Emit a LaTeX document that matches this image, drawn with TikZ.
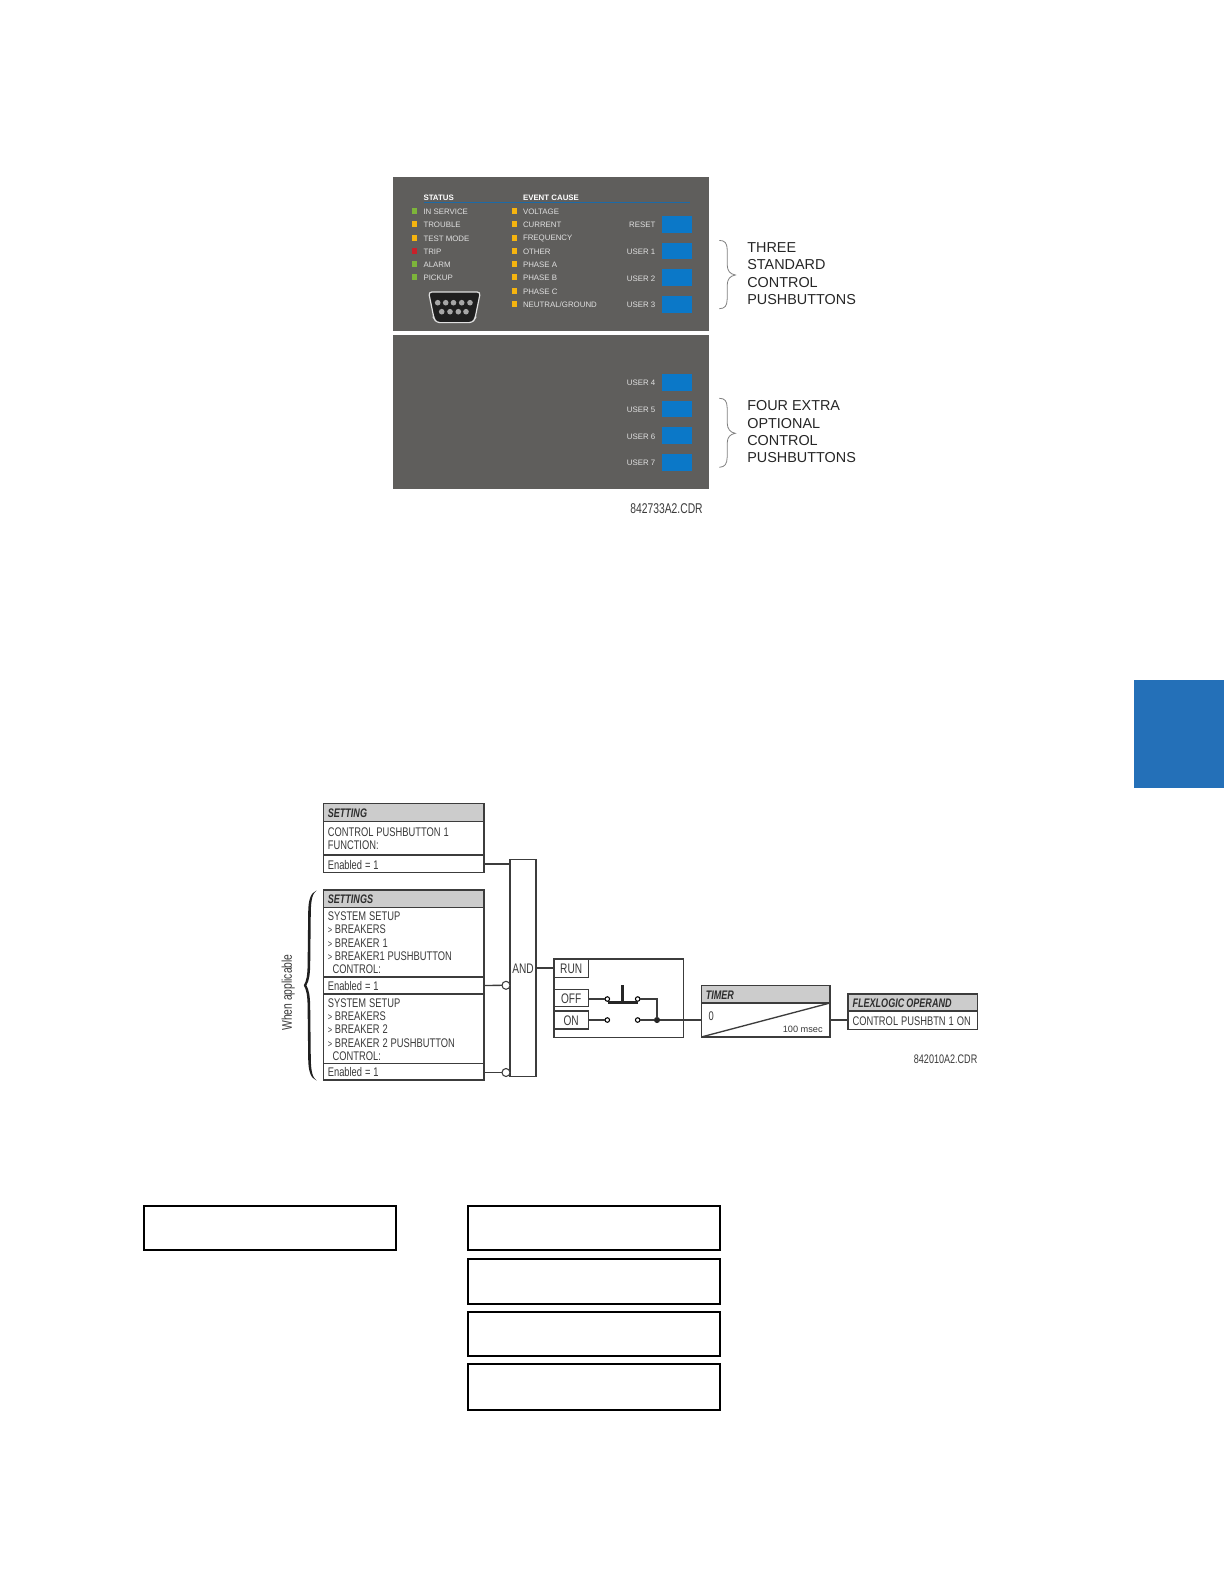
\documentclass[tikz,border=0pt]{standalone}
\usepackage{fontspec}
\setmainfont{Liberation Sans}
\newfontfamily\narrowf[FakeStretch=0.745]{Liberation Sans}
\newfontfamily\tagf[FakeStretch=0.73]{Liberation Sans}
\newcommand\tightsp{\fontdimen2\font=2.2pt \fontdimen3\font=0pt \fontdimen4\font=0pt }
\newcommand\headsp{\fontdimen2\font=1.5pt \fontdimen3\font=0pt \fontdimen4\font=0pt }
\definecolor{panelgrey}{HTML}{5F5E5C}
\definecolor{btnblue}{HTML}{0B78C8}
\definecolor{linkblue}{HTML}{1C6AA6}
\definecolor{tabblue}{HTML}{2470B8}
\definecolor{ledgreen}{HTML}{7DB53A}
\definecolor{ledamber}{HTML}{F5B40F}
\definecolor{ledred}{HTML}{C8202A}
\definecolor{headgrey}{HTML}{CCCCCC}
\definecolor{inkgrey}{HTML}{3A3A3A}
\definecolor{edgegrey}{HTML}{3C3C3C}
\tikzset{
  plain/.style={inner sep=0pt,outer sep=0pt},
  rectnode/.style={plain,rectangle},
  panelbox/.style={rectnode,fill=panelgrey},
  btnbox/.style={rectnode,fill=btnblue},
  panellbl/.style={plain,yshift=-0.6pt,text=black!12,font=\fontsize{5.9}{7}\selectfont},
  panelhead/.style={plain,text=white,font=\bfseries\fontsize{5.9}{7}\selectfont},
  led/.style={rectnode,minimum width=4.4pt,minimum height=4.4pt},
  biglbl/.style={plain,align=left,text=black!85,font=\fontsize{10.8}{13}\selectfont},
  cdr/.style={plain,text=inkgrey,font=\tagf\fontsize{10.6}{11}\selectfont},
  cdrsmall/.style={plain,text=inkgrey,font=\tagf\fontsize{9.3}{10}\selectfont},
  cell/.style={rectnode,draw=edgegrey,line width=1pt,fill=white},
  celltext/.style={plain,text=inkgrey,align=left,font=\narrowf\fontsize{9.4}{10}\selectfont\tightsp},
  headcell/.style={cell,fill=headgrey},
  headcelltext/.style={plain,text=inkgrey!80!black,align=left,font=\tagf\bfseries\itshape\fontsize{9.3}{10}\selectfont\headsp},
  frame/.style={rectnode,draw=edgegrey,line width=1pt},
  tagbox/.style={rectnode,draw=edgegrey,line width=1pt,fill=white,text=inkgrey},
  tagtext/.style={plain,text=inkgrey,font=\tagf\fontsize{10.4}{11}\selectfont},
  wire/.style={draw=edgegrey,line width=1pt},
  invert/.style={plain,circle,draw=edgegrey,line width=.8pt,fill=white,minimum size=6pt},
  contact/.style={plain,circle,draw=black,line width=.8pt,fill=white,minimum size=3.4pt},
  junction/.style={plain,circle,fill=black!85,minimum size=4.6pt},
  emptybox/.style={rectnode,draw=black,line width=1.6pt},
  thinbrace/.style={draw=black!50,line width=.6pt},
}
\newcommand\rectat[7]{%
  \pgfmathsetmacro\rw{(#4-#2)*0.75}\pgfmathsetmacro\rh{(#5-#3)*0.75}%
  \node[#6,minimum width=\rw pt,minimum height=\rh pt,anchor=north west] (#1) at (#2,#3) {#7};}
\newcommand\cellat[7]{%
  \pgfmathsetmacro\rw{(#4-#2)*0.75}\pgfmathsetmacro\rh{(#5-#3)*0.75}%
  \node[#6,minimum width=\rw pt,minimum height=\rh pt,anchor=north west] (#1) at (#2,#3) {};
  \node[#6text,anchor=west] (#1t) at ([xshift=3.4pt,yshift=-.6pt]#1.west) {#7};}
\newcommand\tagat[6]{%
  \rectat{#1}{#2}{#3}{#4}{#5}{tagbox}{}
  \node[tagtext] (#1t) at ([yshift=-.5pt]#1.center) {#6};}
\newcommand\gtmark{{\fontsize{7.5}{10}\selectfont>}\hspace{2.1pt}}
\newcommand\indentgt{\hspace*{3.6pt}}
\begin{document}
\begin{tikzpicture}[x=0.75pt,y=-0.75pt]
\useasboundingbox (0,0) rectangle (1224,1584);
\fill[white] (0,0) rectangle (1224,1584);
% side tab
\rectat{tab}{1134}{680}{1224}{788}{rectnode,fill=tabblue}{}
% panels
\rectat{panelA}{393.3}{176.7}{709}{331}{panelbox}{}
\rectat{panelB}{393.3}{334.7}{709}{489}{panelbox}{}
\node[panelhead,anchor=west] (hStatus) at (423.5,197.7) {STATUS};
\node[panelhead,anchor=west] (hEvent) at (523,197.7) {EVENT CAUSE};
\coordinate (ruleL) at (424,202.7);
\coordinate (ruleR) at (690,202.7);
\draw[linkblue,line width=1.1pt] (ruleL) -- (ruleR);
\foreach \n/\y/\c/\t in {a/210.7/ledgreen/IN SERVICE,b/224/ledamber/TROUBLE,c/237.7/ledamber/TEST MODE,d/251/ledred/TRIP,e/264.3/ledgreen/ALARM,f/277.3/ledgreen/PICKUP}{
  \node[led,fill=\c] (sl\n) at (414.5,\y) {};
  \node[panellbl,anchor=west] (st\n) at (423.5,\y) {\t};
}
\foreach \n/\y/\t in {a/210.7/VOLTAGE,b/224/CURRENT,c/237.7/FREQUENCY,d/251/OTHER,e/264.3/PHASE A,f/277.3/PHASE B,g/291/PHASE C,h/304.3/{NEUTRAL/GROUND}}{
  \node[led,fill=ledamber] (el\n) at (514.5,\y) {};
  \node[panellbl,anchor=west] (et\n) at (523,\y) {\t};
}
\foreach \n/\y/\t in {r/216/RESET,u/242.7/USER 1,v/269.3/USER 2,w/296/USER 3,x/374/USER 4,y/400.7/USER 5,z/427.3/USER 6,q/454/USER 7}{
  \pgfmathsetmacro\yy{\y+16.7}\pgfmathsetmacro\ym{\y+8.3}
  \rectat{btn\n}{662}{\y}{691.7}{\yy}{btnbox}{}
  \node[panellbl,anchor=east] (bt\n) at (655.3,\ym) {\t};
}
% serial connector
\fill[black!88,draw=black!12,line width=.9pt,rounded corners=2.4pt]
  (428.6,292) -- (480.4,292) -- (475,318.5) -- (472.5,322.6) -- (436.5,322.6) -- (434,318.5) -- cycle;
\foreach \x in {437.7,445.7,453.5,461.7,470}{\fill[black!35] (\x,302.7) circle[radius=2.8];}
\foreach \x in {441.7,450,458.3,466}{\fill[black!35] (\x,311.7) circle[radius=2.8];}
% thin braces and captions
\draw[thinbrace] (719.3,240.4) .. controls (725,240.5) and (727,243) .. (727.2,250) -- (727.2,265) .. controls (727.4,271) and (730,274) .. (735.3,275) .. controls (730,276) and (727.4,279) .. (727.2,285) -- (727.2,299) .. controls (727,306) and (725,308.5) .. (719.3,308.7);
\draw[thinbrace] (719.3,398.3) .. controls (725,398.4) and (727,401) .. (727.2,408) -- (727.2,423) .. controls (727.4,429) and (730,432.3) .. (735.3,433.3) .. controls (730,434.3) and (727.4,437) .. (727.2,443) -- (727.2,457) .. controls (727,464) and (725,467) .. (719.3,467.3);
\node[biglbl,anchor=west] (capA) at (747.3,273.7) {THREE\\STANDARD\\CONTROL\\PUSHBUTTONS};
\node[biglbl,anchor=west] (capB) at (747.3,432) {FOUR EXTRA\\OPTIONAL\\CONTROL\\PUSHBUTTONS};
\node[cdr,anchor=east] (cdrA) at (702.7,508.7) {842733A2.CDR};
% setting boxes
\cellat{hd1}{323.3}{803.3}{484}{821.3}{headcell}{SETTING}
\cellat{bd1}{323.3}{821.3}{484}{855}{cell}{CONTROL PUSHBUTTON 1\\FUNCTION:}
\cellat{en1}{323.3}{855}{484}{872.7}{cell}{Enabled = 1}
\cellat{hd2}{323.3}{890}{484}{907.3}{headcell}{SETTINGS}
\cellat{bd2}{323.3}{907.3}{484}{977}{cell}{SYSTEM SETUP\\\gtmark BREAKERS\\\gtmark BREAKER 1\\\gtmark BREAKER1 PUSHBUTTON\\\indentgt CONTROL:}
\cellat{en2}{323.3}{977}{484}{994}{cell}{Enabled = 1}
\cellat{bd3}{323.3}{994}{484}{1063.3}{cell}{SYSTEM SETUP\\\gtmark BREAKERS\\\gtmark BREAKER 2\\\gtmark BREAKER 2 PUSHBUTTON\\\indentgt CONTROL:}
\cellat{en3}{323.3}{1063.3}{484}{1080}{cell}{Enabled = 1}
% when applicable brace
\fill[black!88] (316.5,890.5) .. controls (310.5,893) and (308.4,900) .. (308.2,912) -- (307.6,965)
  .. controls (307.4,975) and (306.6,981) .. (303.8,985.3)
  .. controls (306.6,990) and (307.4,996) .. (307.6,1006) -- (308.2,1059)
  .. controls (308.4,1071) and (310.5,1078) .. (316.5,1080.5)
  .. controls (312.4,1077.5) and (311,1071) .. (310.8,1059) -- (310.2,1006)
  .. controls (310,996) and (309,990) .. (306.4,985.3)
  .. controls (309,981) and (310,975) .. (310.2,965) -- (310.8,912)
  .. controls (311,900) and (312.4,893.5) .. (316.5,890.5) -- cycle;
\node[cdr,rotate=90] (whenapp) at (288.3,992.5) {When applicable};
% AND gate
\rectat{andg}{510}{859.7}{536}{1076.7}{frame}{}
\node[tagtext] (andt) at (523,969) {AND};
\node[invert] (inv2) at (506,985.3) {};
\node[invert] (inv3) at (506,1072.5) {};
\draw[wire] (en1.east) -- (en1.east -| andg.west);
\draw[wire] (en2.east) -- (inv2.west);
\draw[wire] (en3.east |- inv3.west) -- (inv3.west);
% latch block
\rectat{latch}{554}{959}{683.3}{1037.3}{frame}{}
\tagat{run}{554}{959}{588.3}{977.3}{RUN}
\tagat{off}{554}{989.3}{588.3}{1006.7}{OFF}
\tagat{on}{554}{1011}{588.3}{1029}{ON}
\draw[wire] (andg.east |- run.west) -- (run.west);
\node[contact] (c1) at (607.3,999) {};
\node[contact] (c2) at (637.7,999) {};
\node[contact] (c3) at (607.3,1020) {};
\node[contact] (c4) at (637.7,1020) {};
\node[junction] (jn) at (657,1020) {};
\draw[wire] (off.east |- c1) -- (c1);
\draw[wire] (on.east |- c3) -- (c3);
\draw[wire] (c2) -| (jn);
\draw[wire] (c4) -- (jn);
\draw[black!85,line width=2.2pt] (607.5,1002.5) -- (637.5,1002.5);
\draw[black!85,line width=2.6pt] (622.7,985.3) -- (622.7,1002.3);
% timer
\cellat{thd}{701.3}{985.3}{830}{1003}{headcell}{TIMER}
\rectat{tbd}{701.3}{1003}{830}{1037}{frame}{}
\node[celltext] (tzero) at (711.3,1015.7) {0};
\node[plain,text=inkgrey,anchor=east,font=\fontsize{6.9}{8}\selectfont] (tval) at (822.7,1029.7) {100 msec};
\draw[wire] (tbd.south west) -- (tbd.north east);
\draw[wire] (jn) -- (jn -| tbd.west);
% operand
\cellat{fhd}{848}{994}{977.3}{1011}{headcell}{FLEXLOGIC OPERAND}
\cellat{fbd}{848}{1011}{977.3}{1029.3}{cell}{CONTROL PUSHBTN 1 ON}
\draw[wire] (tbd.east |- fbd.west) -- (fbd.west);
\node[cdrsmall,anchor=east] (cdrB) at (977.3,1059) {842010A2.CDR};
% empty boxes
\rectat{mt1}{144.4}{1206}{396}{1250.4}{emptybox}{}
\rectat{mt2}{467.6}{1206}{720}{1250.4}{emptybox}{}
\rectat{mt3}{467.6}{1258.6}{720}{1303.8}{emptybox}{}
\rectat{mt4}{467.6}{1311.6}{720}{1356.4}{emptybox}{}
\rectat{mt5}{467.6}{1364.4}{720}{1410}{emptybox}{}
\end{tikzpicture}
\end{document}
